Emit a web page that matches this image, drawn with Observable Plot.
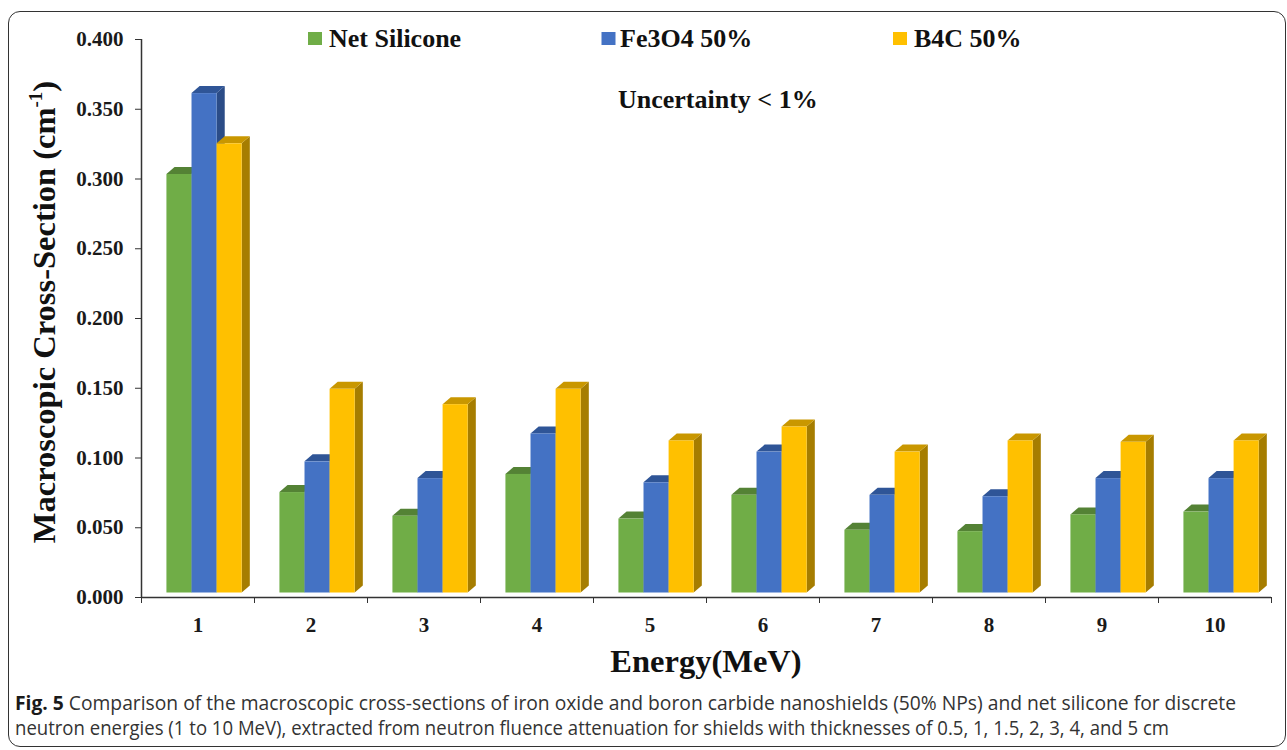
<!DOCTYPE html>
<html><head><meta charset="utf-8">
<script src="https://cdn.jsdelivr.net/npm/d3@7"></script>
<script src="https://cdn.jsdelivr.net/npm/@observablehq/plot@0.6"></script>
<style>
html,body{margin:0;padding:0;background:#fff;}
#wrap{position:relative;width:1287px;height:750px;overflow:hidden;}
#frame{position:absolute;left:8px;top:11px;width:1278px;height:736px;border:1.5px solid #333;border-radius:12px;box-sizing:border-box;}
#chart{position:absolute;left:0;top:0;}
.cap{position:absolute;left:15px;font-family:"Open Sans","Noto Sans",sans-serif;font-size:20px;color:#333;white-space:nowrap;transform-origin:0 50%;line-height:20px;height:20px;}
.cap b{color:#1a1a1a;}
</style></head><body>
<div id="wrap"><div id="frame"></div><div id="chart"></div>
<div class="cap" id="cap1" style="top:693px"><b>Fig. 5</b> Comparison of the macroscopic cross-sections of iron oxide and boron carbide nanoshields (50% NPs) and net silicone for discrete</div>
<div class="cap" id="cap2" style="top:718px">neutron energies (1 to 10 MeV), extracted from neutron fluence attenuation for shields with thicknesses of 0.5, 1, 1.5, 2, 3, 4, and 5 cm</div>
</div>
<script>
// ---- data ----
const energies = [1, 2, 3, 4, 5, 6, 7, 8, 9, 10];
const seriesNames = ["Net Silicone", "Fe3O4 50%", "B4C 50%"];
const netSilicone = [0.300, 0.072, 0.055, 0.085, 0.053, 0.070, 0.045, 0.044, 0.056, 0.058];
const fe3o4 = [0.358, 0.094, 0.082, 0.114, 0.079, 0.101, 0.070, 0.069, 0.082, 0.082];
const b4c = [0.322, 0.146, 0.135, 0.146, 0.109, 0.119, 0.101, 0.109, 0.108, 0.109];
const yTicks = [0, 0.05, 0.10, 0.15, 0.20, 0.25, 0.30, 0.35, 0.40];
const xBoundaries = [0.5, 1.5, 2.5, 3.5, 4.5, 5.5, 6.5, 7.5, 8.5, 9.5, 10.5];

const seriesValues = [netSilicone, fe3o4, b4c];
const frontColors = ["#70AD47", "#4472C4", "#FFC000"];
const topColors = ["#548235", "#2F5597", "#C99700"];
const sideColors = ["#4E7A31", "#2B4C87", "#A67D00"];

function bars3d(index, scales) {
  const g = d3.create("svg:g");
  const x = scales.x, y = scales.y;
  energies.forEach((e, i) => {
    const left = x(e - 0.5), right = x(e + 0.5), band = right - left;
    const pad = band * 0.225, barW = band * 0.222, dx = band * 0.072, dy = 7, lift = 4.5;
    const yb = y(0) - lift;
    seriesValues.forEach((vals, s) => {
      const x1 = left + pad + s * barW, x2 = x1 + barW;
      const yt = y(vals[i]) - lift;
      g.append("path").attr("d", `M${x2},${yb}L${x2 + dx},${yb - dy}L${x2 + dx},${yt - dy}L${x2},${yt}Z`).attr("fill", sideColors[s]);
      g.append("path").attr("d", `M${x1},${yt}L${x1 + dx},${yt - dy}L${x2 + dx},${yt - dy}L${x2},${yt}Z`).attr("fill", topColors[s]);
      g.append("rect").attr("x", x1).attr("y", yt).attr("width", barW).attr("height", yb - yt).attr("fill", frontColors[s]);
    });
  });
  return g.node();
}

const chart = Plot.plot({
  width: 1287,
  height: 690,
  marginLeft: 141,
  marginRight: 16,
  marginTop: 39,
  marginBottom: 93,
  style: {fontFamily: "'Liberation Serif','Times New Roman',serif", fontSize: "21px", fontWeight: "bold", color: "#1a1a1a", background: "transparent"},
  x: {type: "linear", domain: [0.5, 10.5]},
  y: {domain: [0, 0.4]},
  marks: [
    bars3d,
    Plot.axisY(yTicks, {tickSize: 6, tickPadding: 12, tickFormat: d3.format(".3f"), label: null, stroke: "#333"}),
    Plot.axisX(xBoundaries, {tickSize: 6, tickFormat: () => "", label: null, stroke: "#333"}),
    Plot.axisX(energies, {tickSize: 0, tickPadding: 20, tickFormat: d => String(d), label: null}),
    Plot.ruleY([0], {stroke: "#333", strokeWidth: 1.5}),
    Plot.ruleX([0.5], {stroke: "#333", strokeWidth: 1.5})
  ]
});
document.getElementById("chart").appendChild(chart);

// annotations
const svg = d3.select(chart);
const ann = svg.append("g").attr("fill", "#111").attr("text-anchor", "start")
  .attr("font-family", "'Liberation Serif','Times New Roman',serif").attr("font-weight", "bold");
const yt = ann.append("text").attr("transform", "translate(55,312) rotate(-90)").attr("text-anchor", "middle").attr("font-size", 32.5);
yt.append("tspan").text("Macroscopic Cross-Section (cm");
yt.append("tspan").attr("font-size", 19).attr("dy", -13).text("-1");
yt.append("tspan").attr("dy", 13).text(")");
ann.append("text").attr("x", 706).attr("y", 672).attr("text-anchor", "middle").attr("font-size", 32.5).text("Energy(MeV)");
const legX = [308, 601.5, 893];
const legTextX = [329, 620, 914];
seriesNames.forEach((n, s) => {
  ann.append("rect").attr("x", legX[s]).attr("y", 32).attr("width", 14).attr("height", 13).attr("fill", frontColors[s]);
  ann.append("text").attr("x", legTextX[s]).attr("y", 46.5).attr("font-size", 26).text(n);
});
ann.append("text").attr("x", 618).attr("y", 108).attr("font-size", 26).text("Uncertainty < 1%");

// fit caption widths
function fit(id, target) {
  const el = document.getElementById(id);
  const w = el.getBoundingClientRect().width;
  el.style.transform = `scaleX(${target / w})`;
}
fit("cap1", 1221);
fit("cap2", 1154);
</script>
</body></html>
